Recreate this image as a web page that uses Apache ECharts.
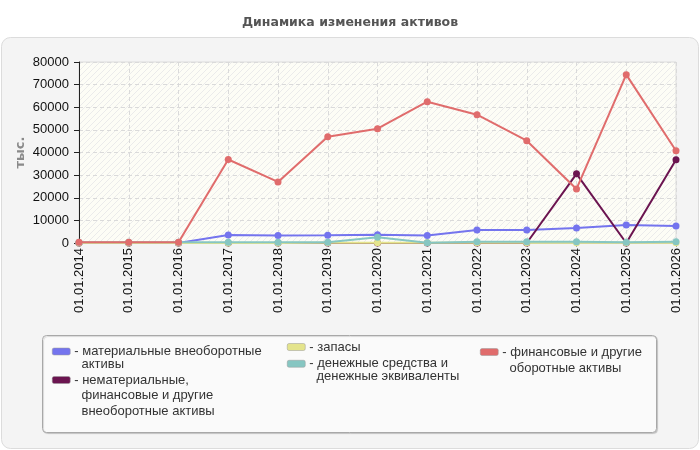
<!DOCTYPE html>
<html>
<head>
<meta charset="utf-8">
<script src="https://cdn.jsdelivr.net/npm/echarts@6/dist/echarts.min.js"></script>
<style>
  html, body { margin: 0; padding: 0; background: #fff; }
  #container { width: 700px; height: 450px; }
</style>
</head>
<body>
<div id="container"></div>
<script>
const categories = [
  '01.01.2014', '01.01.2015', '01.01.2016', '01.01.2017', '01.01.2018',
  '01.01.2019', '01.01.2020', '01.01.2021', '01.01.2022', '01.01.2023',
  '01.01.2024', '01.01.2025', '01.01.2026'
]

// тыс.
const tangible = [0, 0, 0, 3540, 3300, 3400, 3680, 3300, 5760, 5760, 6650, 7970, 7530]
const intangible = [0, 0, 0, 0, 0, 0, 0, 0, 0, 0, 30570, 0, 36770]
const stocks = [0, 0, 0, 0, 0, 100, 100, 100, 100, 100, 100, 100, 100]
const cash = [300, 300, 300, 300, 300, 300, 2500, 100, 570, 570, 570, 300, 570]
const current = [300, 300, 300, 36900, 27000, 46960, 50500, 62460, 56700, 45200, 23900, 74400, 40760]

const seriesNames = [
  'материальные внеоборотные активы',
  'нематериальные, финансовые и другие внеоборотные активы',
  'запасы',
  'денежные средства и денежные эквиваленты',
  'финансовые и другие оборотные активы'
]
const legendLines = [
  ['материальные внеоборотные', 'активы'],
  ['нематериальные,', 'финансовые и другие', 'внеоборотные активы'],
  ['запасы'],
  ['денежные средства и', 'денежные эквиваленты'],
  ['финансовые и другие', 'оборотные активы']
]
const colors = ['#7474ee', '#6b1450', '#e4e48c', '#86c6c2', '#e06c6c']
const values = [tangible, intangible, stocks, cash, current]

// hatch pattern for the plot area
const hatch = document.createElement('canvas')
hatch.width = 6
hatch.height = 6
const hctx = hatch.getContext('2d')
hctx.fillStyle = '#fdfdf6'
hctx.fillRect(0, 0, 6, 6)
hctx.strokeStyle = '#ebebeb'
hctx.lineWidth = 1
hctx.beginPath()
hctx.moveTo(0, 6)
hctx.lineTo(6, 0)
hctx.moveTo(-3, 3)
hctx.lineTo(3, -3)
hctx.moveTo(3, 9)
hctx.lineTo(9, 3)
hctx.stroke()

// one legend per entry: icon lines up with first text line
function legendAt(i, x, cy, lh) {
  const n = legendLines[i].length
  return {
    data: [seriesNames[i]],
    left: x,
    top: cy - (2 * n - 1) * lh / 2,
    padding: 0,
    itemWidth: 18,
    itemHeight: 7,
    itemGap: 0,
    icon: 'roundRect',
    itemStyle: { borderColor: '#999', borderWidth: 0.5 },
    textStyle: {
      fontFamily: 'Liberation Sans',
      fontSize: 13,
      color: '#333',
      lineHeight: lh,
      padding: [0, 0, 0, -1]
    },
    selectedMode: false,
    formatter: () => {
      const lines = legendLines[i]
      return '\n'.repeat(n - 1) + '- ' + lines[0] +
        lines.slice(1).map(l => '\n  ' + l).join('')
    }
  }
}

const myChart = echarts.init(document.getElementById('container'))

const option = {
  backgroundColor: '#fff',
  animation: false,
  color: colors,
  title: {
    text: 'Динамика изменения активов',
    left: 'center',
    top: 11,
    textStyle: {
      fontFamily: 'DejaVu Sans',
      fontSize: 12.5,
      fontWeight: 'bold',
      color: '#555'
    }
  },
  graphic: [
    {
      type: 'rect',
      z: -10,
      shape: { x: 1.5, y: 37.5, width: 697, height: 411, r: 9 },
      style: { fill: '#f4f4f4', stroke: '#dcdcdc', lineWidth: 1 }
    },
    {
      type: 'rect',
      z: -5,
      shape: { x: 42.5, y: 335.5, width: 614, height: 97, r: 4 },
      style: {
        fill: '#fafafa', stroke: '#a8a8a8', lineWidth: 1,
        shadowColor: 'rgba(0,0,0,0.15)', shadowOffsetX: 1, shadowOffsetY: 1, shadowBlur: 1
      }
    }
  ],
  legend: [
    legendAt(0, 52, 351.5, 13),
    legendAt(1, 52, 380, 15.5),
    legendAt(2, 287, 347, 14),
    legendAt(3, 287, 363.5, 12.5),
    legendAt(4, 480, 352, 16)
  ],
  grid: {
    left: 79,
    right: 24,
    top: 62,
    bottom: 207,
    show: true,
    backgroundColor: { image: hatch, repeat: 'repeat' },
    borderColor: '#dcdcdc',
    borderWidth: 1
  },
  xAxis: {
    type: 'category',
    data: categories,
    boundaryGap: false,
    axisLine: { lineStyle: { color: '#bbb' } },
    axisTick: { show: true, length: 4, lineStyle: { color: '#999' } },
    axisLabel: {
      rotate: 90,
      margin: 5,
      fontFamily: 'Liberation Sans',
      fontSize: 13,
      color: '#111'
    },
    splitLine: {
      show: true,
      lineStyle: { color: '#dadada', type: [4, 3] }
    }
  },
  yAxis: {
    type: 'value',
    min: 0,
    max: 80000,
    interval: 10000,
    name: 'тыс.',
    nameLocation: 'middle',
    nameGap: 52,
    nameMoveOverlap: false,
    nameRotate: 90,
    nameTextStyle: {
      fontFamily: 'DejaVu Sans',
      fontSize: 13,
      fontWeight: 'bold',
      color: '#8a8a8a'
    },
    axisLine: { show: true, lineStyle: { color: '#222' } },
    axisTick: { show: true, length: 5, lineStyle: { color: '#222' } },
    axisLabel: {
      margin: 10,
      fontFamily: 'Liberation Sans',
      fontSize: 13,
      color: '#111',
      formatter: v => String(v)
    },
    splitLine: {
      show: true,
      lineStyle: { color: '#dadada', type: [4, 3] }
    }
  },
  series: values.map((data, i) => ({
    name: seriesNames[i],
    type: 'line',
    data: data,
    symbol: 'circle',
    symbolSize: 7,
    showAllSymbol: true,
    lineStyle: { width: 2 },
    z: 2 + i
  }))
}

myChart.setOption(option)
</script>
</body>
</html>
